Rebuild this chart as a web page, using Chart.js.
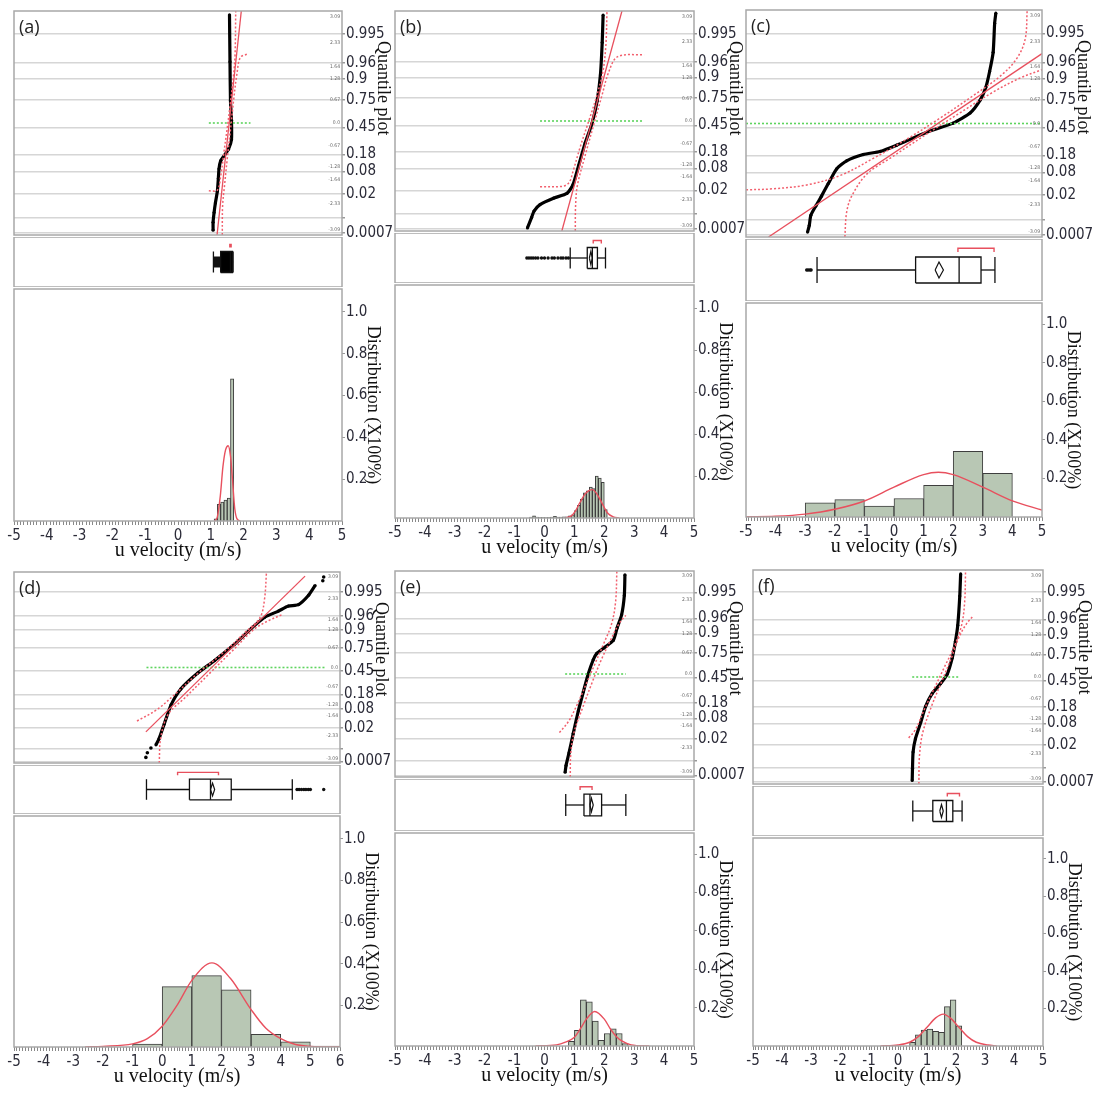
<!DOCTYPE html>
<html>
<head>
<meta charset="utf-8">
<script src="https://cdn.jsdelivr.net/npm/chart.js@4.4.0/dist/chart.umd.min.js"></script>
<style>
html, body { margin: 0; padding: 0; background: #fff; }
#fig { position: relative; width: 1094px; height: 1094px; overflow: hidden; background: #fff; }
#fig canvas { position: absolute; }
</style>
</head>
<body>
<div id="fig"></div>
<script>
// Normal quantile axis: grid positions (z) and probability labels
var zTicks = [-3.195, -2.75, -2.054, -1.405, -0.915, -0.126, 0.674, 1.282, 1.751, 2.576];
var probLabels = ['0.0007', '', '0.02', '0.08', '0.18', '0.45', '0.75', '0.9', '0.96', '0.995'];
var zSmallTicks = [3.09, 2.33, 1.64, 1.28, 0.67, 0, -0.67, -1.28, -1.64, -2.33, -3.09];
var zSmallLabels = ['3.09', '2.33', '1.64', '1.28', '0.67', '0.0', '-0.67', '-1.28', '-1.64', '-2.33', '-3.09'];
var distTicks = [0.2, 0.4, 0.6, 0.8, 1.0];

// (a)
var aQuantile = [[1.07, -3.11], [1.07, -2.88], [1.10, -2.60], [1.14, -2.32], [1.20, -1.98], [1.23, -1.61], [1.25, -1.33], [1.30, -1.10], [1.42, -0.93], [1.54, -0.76], [1.63, -0.48], [1.63, 0.08], [1.60, 0.65], [1.585, 1.78], [1.57, 3.14]];
var aFit = [[1.19, -3.25], [1.93, 3.25]];
var aBandA = [[0.94, -1.97], [1.2, -1.95], [1.3, -1.55], [1.4, -0.85], [1.5, -0.15], [1.6, 0.6], [1.7, 1.45], [1.74, 2.0], [1.76, 3.25]];
var aBandB = [[1.35, -3.25], [1.36, -2.4], [1.42, -1.8], [1.5, -1.05], [1.6, -0.2], [1.7, 0.7], [1.8, 1.45], [1.9, 1.9], [2.11, 2.0]];
var aGreen = [0.94, 2.21];
var aBox = [1.08, 1.30, 1.60, 1.66, 1.68];
var aShortest = [1.58, 1.62];
var aOutliers = [];
var aBinX = [1.15, 1.25, 1.35, 1.45, 1.55, 1.65];
var aBinY = [0.01, 0.08, 0.09, 0.10, 0.11, 0.68];
var aCurveX = [1.12, 1.2, 1.29, 1.37, 1.45, 1.53, 1.6, 1.66, 1.73, 1.8, 1.9];
var aCurveY = [0, 0.02, 0.12, 0.26, 0.34, 0.36, 0.31, 0.2, 0.06, 0.01, 0];

// (b)
var bQuantile = [[-0.57, -3.16], [-0.43, -2.85], [-0.35, -2.66], [-0.15, -2.47], [0.30, -2.28], [0.75, -2.14], [0.95, -1.89], [1.14, -1.32], [1.36, -0.65], [1.59, -0.07], [1.76, 0.59], [1.87, 1.36], [1.93, 2.32], [1.96, 3.13]];
var bFit = [[0.58, -3.25], [2.59, 3.25]];
var bBandA = [[-0.15, -1.94], [0.6, -1.93], [0.82, -1.82], [0.95, -1.5], [1.2, -0.75], [1.48, 0.0], [1.75, 0.75], [1.95, 1.45], [2.05, 2.2], [2.09, 3.25]];
var bBandB = [[1.03, -3.25], [1.04, -2.5], [1.1, -1.9], [1.35, -1.05], [1.65, -0.1], [1.92, 0.75], [2.15, 1.45], [2.45, 1.9], [3.33, 1.96]];
var bGreen = [-0.15, 3.27];
var bBox = [0.86, 1.43, 1.6, 1.77, 2.04];
var bMean = [1.5, 1.55, 1.6];
var bShortest = [1.63, 1.9];
var bOutliers = [-0.59, -0.52, -0.45, -0.38, -0.3, -0.22, -0.1, 0.0, 0.12, 0.25, 0.33, 0.45, 0.55, 0.62, 0.72, 0.8];
var bBinX = [-0.45, -0.35, -0.25, -0.15, -0.05, 0.05, 0.15, 0.25, 0.35, 0.45, 0.55, 0.65, 0.75, 0.85, 0.95, 1.05, 1.15, 1.25, 1.35, 1.45, 1.55, 1.65, 1.75, 1.85, 1.95, 2.05];
var bBinY = [0.004, 0.01, 0.004, 0.003, 0.003, 0.002, 0.003, 0.004, 0.008, 0.004, 0.004, 0.005, 0.006, 0.01, 0.015, 0.035, 0.06, 0.09, 0.12, 0.13, 0.147, 0.14, 0.2, 0.19, 0.17, 0.04];
var bCurveX = [0.7, 0.9, 1.02, 1.19, 1.36, 1.5, 1.6, 1.75, 1.87, 2.0, 2.1, 2.3, 2.5];
var bCurveY = [0, 0.01, 0.03, 0.075, 0.115, 0.132, 0.135, 0.115, 0.085, 0.05, 0.025, 0.005, 0];

// (c)
var cQuantile = [[-2.92, -3.11], [-2.86, -2.91], [-2.81, -2.63], [-2.64, -2.36], [-2.45, -2.08], [-2.22, -1.72], [-1.94, -1.30], [-1.60, -1.07], [-1.04, -0.89], [-0.47, -0.80], [0.09, -0.62], [1.11, -0.25], [2.0, 0.01], [2.57, 0.30], [2.91, 0.67], [3.10, 1.03], [3.23, 1.49], [3.35, 2.04], [3.40, 2.87], [3.44, 3.16]];
var cFit = [[-4.24, -3.25], [5, 2.0]];
var cBandA = [[-5, -1.9], [-4.1, -1.87], [-2.95, -1.76], [-1.82, -1.49], [-0.7, -1.0], [0.43, -0.45], [1.55, 0.15], [2.68, 0.8], [3.58, 1.35], [4.14, 1.85], [4.43, 2.41], [4.5, 3.25]];
var cBandB = [[-1.66, -3.25], [-1.6, -2.54], [-1.43, -2.08], [-0.92, -1.45], [-0.14, -1.0], [1.11, -0.3], [2.22, 0.3], [3.35, 0.9], [4.25, 1.3], [5, 1.54]];
var cGreen = [-5, 5];
var cBox = [-2.6, 0.73, 2.2, 2.94, 3.41];
var cMean = [1.39, 1.52, 1.67];
var cShortest = [2.16, 3.38];
var cOutliers = [-2.95, -2.9, -2.84, -2.8];
var cBinX = [-2.5, -1.5, -0.5, 0.5, 1.5, 2.5, 3.5];
var cBinY = [0.073, 0.09, 0.056, 0.096, 0.164, 0.34, 0.227];
var cCurveX = [-5, -4, -3, -2, -1, 0, 1, 1.5, 2, 3, 4, 5];
var cCurveY = [0.001, 0.004, 0.015, 0.04, 0.083, 0.155, 0.22, 0.232, 0.22, 0.155, 0.084, 0.036];

// (d)
var dQuantile = [[-0.21, -2.63], [-0.1, -2.41], [0.07, -1.92], [0.30, -1.27], [0.63, -0.73], [1.2, -0.19], [1.77, 0.24], [2.44, 0.79], [3.01, 1.33], [3.46, 1.71], [3.92, 1.92], [4.26, 2.09], [4.6, 2.14], [4.94, 2.46], [5.16, 2.79]];
var dTail = [[-0.55, -3.06], [-0.5, -2.9], [-0.38, -2.74], [5.42, 2.95], [5.45, 3.08]];
var dFit = [[-0.55, -2.19], [4.82, 3.11]];
var dBandA = [[-0.85, -1.82], [-0.2, -1.45], [0.5, -0.85], [1.2, -0.2], [2.0, 0.45], [2.8, 1.2], [3.3, 1.7], [3.45, 2.3], [3.52, 3.25]];
var dBandB = [[-0.1, -3.25], [-0.05, -2.4], [0.2, -1.6], [0.8, -1.0], [1.6, -0.2], [2.4, 0.6], [3.1, 1.3], [3.6, 1.6], [4.05, 1.8]];
var dGreen = [-0.53, 5.5];
var dBox = [-0.53, 0.92, 1.63, 2.33, 4.39];
var dMean = [1.63, 1.70, 1.77];
var dShortest = [0.52, 1.9];
var dOutliers = [4.55, 4.62, 4.7, 4.78, 4.85, 4.93, 5.0, 5.45];
var dBinX = [-0.5, 0.5, 1.5, 2.5, 3.5, 4.5, 5.5];
var dBinY = [0.014, 0.29, 0.343, 0.275, 0.061, 0.025, 0.005];
var dCurveX = [-2.6, -2, -1, -0.5, 0, 0.5, 1, 1.68, 2.3, 3, 3.5, 4, 4.5, 5, 6];
var dCurveY = [0, 0.003, 0.015, 0.04, 0.1, 0.2, 0.32, 0.404, 0.33, 0.18, 0.09, 0.04, 0.012, 0.003, 0];

// (e)
var eQuantile = [[0.69, -3.1], [0.72, -2.89], [0.82, -2.49], [0.96, -1.88], [1.13, -1.17], [1.30, -0.56], [1.46, -0.01], [1.63, 0.45], [1.75, 0.65], [1.97, 0.81], [2.30, 1.06], [2.43, 1.46], [2.58, 1.87], [2.67, 2.48], [2.69, 3.13]];
var eFit = [];
var eBandA = [[0.5, -1.85], [0.8, -1.5], [1.1, -0.95], [1.4, -0.3], [1.7, 0.35], [2.0, 1.0], [2.25, 1.6], [2.38, 2.3], [2.42, 3.25]];
var eBandB = [[0.86, -3.25], [0.88, -2.5], [1.0, -1.8], [1.3, -1.0], [1.6, -0.25], [1.9, 0.45], [2.2, 1.05], [2.5, 1.6], [2.72, 1.85]];
var eGreen = [0.69, 2.72];
var eBox = [0.71, 1.32, 1.52, 1.91, 2.72];
var eMean = [1.52, 1.57, 1.63];
var eShortest = [1.19, 1.59];
var eOutliers = [];
var eBinX = [0.9, 1.1, 1.3, 1.5, 1.7, 1.9, 2.1, 2.3, 2.5, 2.7];
var eBinY = [0.024, 0.082, 0.24, 0.23, 0.13, 0.03, 0.065, 0.09, 0.065, 0.012];
var eCurveX = [-0.3, 0.4, 0.7, 1.0, 1.2, 1.4, 1.68, 2.0, 2.2, 2.4, 2.6, 2.9, 3.5];
var eCurveY = [0, 0.006, 0.02, 0.045, 0.09, 0.14, 0.18, 0.14, 0.09, 0.05, 0.025, 0.006, 0];

// (f)
var fQuantile = [[0.49, -3.14], [0.5, -2.77], [0.52, -2.28], [0.6, -1.88], [0.78, -1.39], [0.95, -0.9], [1.18, -0.5], [1.47, -0.2], [1.70, 0.09], [1.87, 0.58], [1.98, 1.08], [2.06, 1.57], [2.13, 2.46], [2.16, 3.13]];
var fFit = [];
var fBandA = [[0.37, -1.85], [0.6, -1.6], [0.9, -1.0], [1.25, -0.35], [1.6, 0.3], [1.95, 0.95], [2.2, 1.6], [2.3, 2.3], [2.33, 3.25]];
var fBandB = [[0.72, -3.25], [0.74, -2.4], [0.85, -1.7], [1.15, -0.9], [1.5, -0.15], [1.85, 0.6], [2.1, 1.2], [2.35, 1.6], [2.56, 1.82]];
var fGreen = [0.49, 2.12];
var fBox = [0.51, 1.2, 1.67, 1.89, 2.21];
var fMean = [1.44, 1.5, 1.56];
var fShortest = [1.7, 2.12];
var fOutliers = [];
var fBinX = [0.5, 0.7, 0.9, 1.1, 1.3, 1.5, 1.7, 1.9, 2.1];
var fBinY = [0.02, 0.06, 0.085, 0.09, 0.078, 0.073, 0.21, 0.246, 0.108];
var fCurveX = [-0.6, 0, 0.4, 0.7, 1.0, 1.3, 1.56, 1.8, 2.1, 2.4, 2.7, 3.1, 3.4];
var fCurveY = [0, 0.005, 0.02, 0.05, 0.1, 0.15, 0.17, 0.15, 0.1, 0.05, 0.02, 0.005, 0];

var NARROW = "'Liberation Sans Narrow', 'DejaVu Sans Condensed', 'Arial Narrow', sans-serif";
var SERIF = "'Liberation Serif', 'DejaVu Serif', serif";
var SANS = "'Open Sans', 'Liberation Sans', sans-serif";
var RED = '#e8505e';
var RED_DOT = '#f2606e';
var GREEN = '#5ed45e';
var INK = '#111';
var LABEL = '#2b2b38';
var PADL = 16;   // room left of the frame for the "-5" label
var RW = 58;     // right margin: quantile labels + title
var HW = 42;     // right axis width under the histogram
var XH = 42;     // x axis height (ticks + title)

// frame [left, right, quantileTop, quantileBottom, boxBottom, histBottom] in page pixels
var panels = [
  {tag: '(a)', frame: [14, 342, 9, 237, 287, 521], xMax: 5, quantile: aQuantile, tail: [], fit: aFit, bands: [aBandA, aBandB], green: aGreen,
    box: aBox, mean: null, shortest: aShortest, outliers: aOutliers, binX: aBinX, binY: aBinY, curveX: aCurveX, curveY: aCurveY, solidBox: true},
  {tag: '(b)', frame: [395, 694, 9, 233, 283, 518], xMax: 5, quantile: bQuantile, tail: [], fit: bFit, bands: [bBandA, bBandB], green: bGreen,
    box: bBox, mean: bMean, shortest: bShortest, outliers: bOutliers, binX: bBinX, binY: bBinY, curveX: bCurveX, curveY: bCurveY},
  {tag: '(c)', frame: [746, 1042, 8, 239, 301, 517], xMax: 5, quantile: cQuantile, tail: [], fit: cFit, bands: [cBandA, cBandB], green: cGreen,
    box: cBox, mean: cMean, shortest: cShortest, outliers: cOutliers, binX: cBinX, binY: cBinY, curveX: cCurveX, curveY: cCurveY},
  {tag: '(d)', frame: [14, 340, 570, 765, 814, 1047], xMax: 6, quantile: dQuantile, tail: dTail, fit: dFit, bands: [dBandA, dBandB], green: dGreen,
    box: dBox, mean: dMean, shortest: dShortest, outliers: dOutliers, binX: dBinX, binY: dBinY, curveX: dCurveX, curveY: dCurveY},
  {tag: '(e)', frame: [395, 694, 569, 779, 831, 1046], xMax: 5, quantile: eQuantile, tail: [], fit: eFit, bands: [eBandA, eBandB], green: eGreen,
    box: eBox, mean: eMean, shortest: eShortest, outliers: eOutliers, binX: eBinX, binY: eBinY, curveX: eCurveX, curveY: eCurveY},
  {tag: '(f)', frame: [753, 1043, 568, 786, 836, 1046], xMax: 5, quantile: fQuantile, tail: [], fit: fFit, bands: [fBandA, fBandB], green: fGreen,
    box: fBox, mean: fMean, shortest: fShortest, outliers: fOutliers, binX: fBinX, binY: fBinY, curveX: fCurveX, curveY: fCurveY}
];

// gray box round every plot area
var framePlugin = {
  id: 'frame',
  afterDraw: function (chart) {
    var a = chart.chartArea, ctx = chart.ctx;
    ctx.save();
    ctx.strokeStyle = '#a8a8a8';
    ctx.lineWidth = 1.5;
    ctx.strokeRect(a.left, a.top, a.right - a.left, a.bottom - a.top);
    ctx.restore();
  }
};

// tiny z-score labels, panel letter and the rotated "Quantile plot" title
var quantileText = {
  id: 'qtext',
  afterDraw: function (chart, args, opts) {
    var ctx = chart.ctx, a = chart.chartArea, y = chart.scales.y;
    ctx.save();
    ctx.font = '5px ' + NARROW;
    ctx.fillStyle = '#666';
    ctx.textAlign = 'right';
    ctx.textBaseline = 'middle';
    zSmallTicks.forEach(function (z, i) {
      ctx.fillText(zSmallLabels[i], a.right - 2, y.getPixelForValue(z));
    });
    ctx.font = '18px ' + SANS;
    ctx.fillStyle = '#222';
    ctx.textAlign = 'left';
    ctx.fillText(opts.tag, a.left + 5, a.top + 17);
    ctx.translate(a.right + 41, a.top + 30);
    ctx.rotate(Math.PI / 2);
    ctx.font = '18px ' + SERIF;
    ctx.fillStyle = '#111';
    ctx.fillText('Quantile plot', 0, 0);
    ctx.restore();
  }
};

Chart.register(framePlugin);
Chart.defaults.font.family = NARROW;
Chart.defaults.animation = false;
Chart.defaults.responsive = false;
Chart.defaults.plugins.legend.display = false;
Chart.defaults.plugins.tooltip.enabled = false;

var fig = document.getElementById('fig');

function addCanvas(left, top, w, h) {
  var c = document.createElement('canvas');
  c.width = w;
  c.height = h;
  c.style.left = left + 'px';
  c.style.top = top + 'px';
  c.style.width = w + 'px';
  c.style.height = h + 'px';
  fig.appendChild(c);
  return c;
}

function xy(pts) {
  return pts.map(function (q) { return {x: q[0], y: q[1]}; });
}

function seg(pts, color, width, dash) {
  return {data: xy(pts), showLine: true, borderColor: color, borderWidth: width, borderDash: dash || [],
    pointRadius: 0, tension: 0, fill: false};
}

function quantileChart(p, left, width) {
  var f = p.frame;
  var canvas = addCanvas(left, f[2] - 8, width, f[3] - f[2] + 16);
  var ds = [];
  if (p.fit.length) ds.push(seg(p.fit, RED, 1.3));
  p.bands.forEach(function (b) {
    var s = seg(b, RED_DOT, 1.5, [2, 2]);
    s.tension = 0.35;
    ds.push(s);
  });
  ds.push(seg([[p.green[0], 0], [p.green[1], 0]], GREEN, 1.6, [2, 2]));
  ds.push({data: xy(p.quantile), showLine: true, borderColor: '#000', borderWidth: 3.2, tension: 0.2,
    pointRadius: 1.6, pointBackgroundColor: '#000', pointBorderWidth: 0});
  if (p.tail.length) {
    ds.push({data: xy(p.tail), showLine: false, pointRadius: 1.8, pointBackgroundColor: '#000', pointBorderWidth: 0});
  }
  new Chart(canvas, {
    type: 'scatter',
    data: {datasets: ds},
    plugins: [quantileText],
    options: {
      devicePixelRatio: 1,
      layout: {autoPadding: false, padding: {left: PADL, right: 0, top: 8, bottom: 8}},
      plugins: {qtext: {tag: p.tag}},
      scales: {
        x: {type: 'linear', min: -5, max: p.xMax, display: false},
        y: {
          type: 'linear', position: 'right', min: -3.25, max: 3.25,
          afterBuildTicks: function (s) { s.ticks = zTicks.map(function (v) { return {value: v}; }); },
          afterFit: function (s) { s.width = RW; },
          ticks: {
            autoSkip: false, padding: 1, color: LABEL, font: {family: NARROW, size: 15},
            callback: function (v, i) { return probLabels[i]; }
          },
          grid: {color: '#d6d6d6', lineWidth: 1.5, tickLength: 3, tickColor: '#999'},
          border: {display: false}
        }
      }
    }
  });
}

function boxChart(p, left, width) {
  var f = p.frame, b = p.box;
  var canvas = addCanvas(left, f[3], width, f[4] - f[3]);
  var lo = 0.29, hi = 0.71, mid = 0.5;
  var ds = [
    seg([[p.shortest[0], 0.79], [p.shortest[0], 0.85], [p.shortest[1], 0.85], [p.shortest[1], 0.79]], RED, 1.4),
    seg([[b[0], mid], [b[1], mid]], INK, p.solidBox ? 11 : 1.3),
    seg([[b[3], mid], [b[4], mid]], INK, 1.3),
    seg([[b[0], lo], [b[0], hi]], INK, 1.3),
    seg([[b[4], lo], [b[4], hi]], INK, 1.3),
    seg([[b[1], lo], [b[3], lo], [b[3], hi], [b[1], hi], [b[1], lo]], INK, 1.3),
    seg([[b[2], lo], [b[2], hi]], INK, 1.3)
  ];
  if (p.solidBox) ds.push(seg([[b[1], mid], [b[3], mid]], '#000', 21));
  if (p.mean) {
    ds.push(seg([[p.mean[0], mid], [p.mean[1], 0.63], [p.mean[2], mid], [p.mean[1], 0.37], [p.mean[0], mid]], INK, 1.2));
  }
  if (p.outliers.length) {
    ds.push({data: p.outliers.map(function (x) { return {x: x, y: mid}; }), showLine: false,
      pointRadius: 1.7, pointBackgroundColor: INK, pointBorderWidth: 0});
  }
  new Chart(canvas, {
    type: 'scatter',
    data: {datasets: ds},
    options: {
      devicePixelRatio: 1,
      layout: {autoPadding: false, padding: {left: PADL, right: RW, top: 0, bottom: 0}},
      scales: {
        x: {type: 'linear', min: -5, max: p.xMax, display: false},
        y: {type: 'linear', min: 0, max: 1, display: false}
      }
    }
  });
}

function histChart(p, left, width) {
  var f = p.frame;
  var canvas = addCanvas(left, f[4] - 8, width, f[5] - f[4] + 8 + XH);
  var bars = p.binX.map(function (x, i) { return {x: x, y: p.binY[i]}; });
  var curve = p.curveX.map(function (x, i) { return {x: x, y: p.curveY[i]}; });
  new Chart(canvas, {
    type: 'bar',
    data: {
      datasets: [
        {type: 'line', data: curve, xAxisID: 'xb', borderColor: RED, borderWidth: 1.4,
          pointRadius: 0, cubicInterpolationMode: 'monotone', fill: false},
        {type: 'bar', data: bars, xAxisID: 'xb', backgroundColor: '#b8c7b4', borderColor: '#3e3e3e',
          borderWidth: 1, barPercentage: 1, categoryPercentage: 1, grouped: false}
      ]
    },
    options: {
      devicePixelRatio: 1,
      layout: {autoPadding: false, padding: {left: PADL, right: RW - HW, top: 8, bottom: 0}},
      scales: {
        x: {
          type: 'linear', position: 'bottom', min: -5, max: p.xMax, offset: false,
          afterFit: function (s) { s.height = XH; },
          ticks: {
            stepSize: 0.1, autoSkip: false, maxRotation: 0, padding: 2, color: LABEL,
            font: {family: NARROW, size: 15},
            callback: function (v) {
              var r = Math.round(v * 10) / 10;
              return Number.isInteger(r) ? String(r) : '';
            }
          },
          grid: {drawOnChartArea: false, offset: false, tickLength: 4, tickColor: '#888'},
          border: {display: false},
          title: {display: true, text: 'u velocity (m/s)', color: '#111', padding: 0,
            font: {family: SERIF, size: 20}}
        },
        xb: {type: 'linear', min: -5, max: p.xMax, offset: false, display: false, grid: {offset: false}},
        y: {
          type: 'linear', position: 'right', min: 0, max: 1.11,
          afterBuildTicks: function (s) { s.ticks = distTicks.map(function (v) { return {value: v}; }); },
          afterFit: function (s) { s.width = HW; },
          ticks: {
            autoSkip: false, padding: 1, color: LABEL, font: {family: NARROW, size: 15},
            callback: function (v) { return v.toFixed(1); }
          },
          grid: {drawOnChartArea: false, tickLength: 3, tickColor: '#999'},
          border: {display: false},
          title: {display: true, text: 'Distribution (X100%)', color: '#111', padding: 0,
            font: {family: SERIF, size: 18}}
        }
      }
    }
  });
}

panels.forEach(function (p) {
  var f = p.frame;
  var left = f[0] - PADL;
  var width = f[1] - f[0] + PADL + RW;
  histChart(p, left, width);
  boxChart(p, left, width);
  quantileChart(p, left, width);
});
</script>
</body>
</html>
